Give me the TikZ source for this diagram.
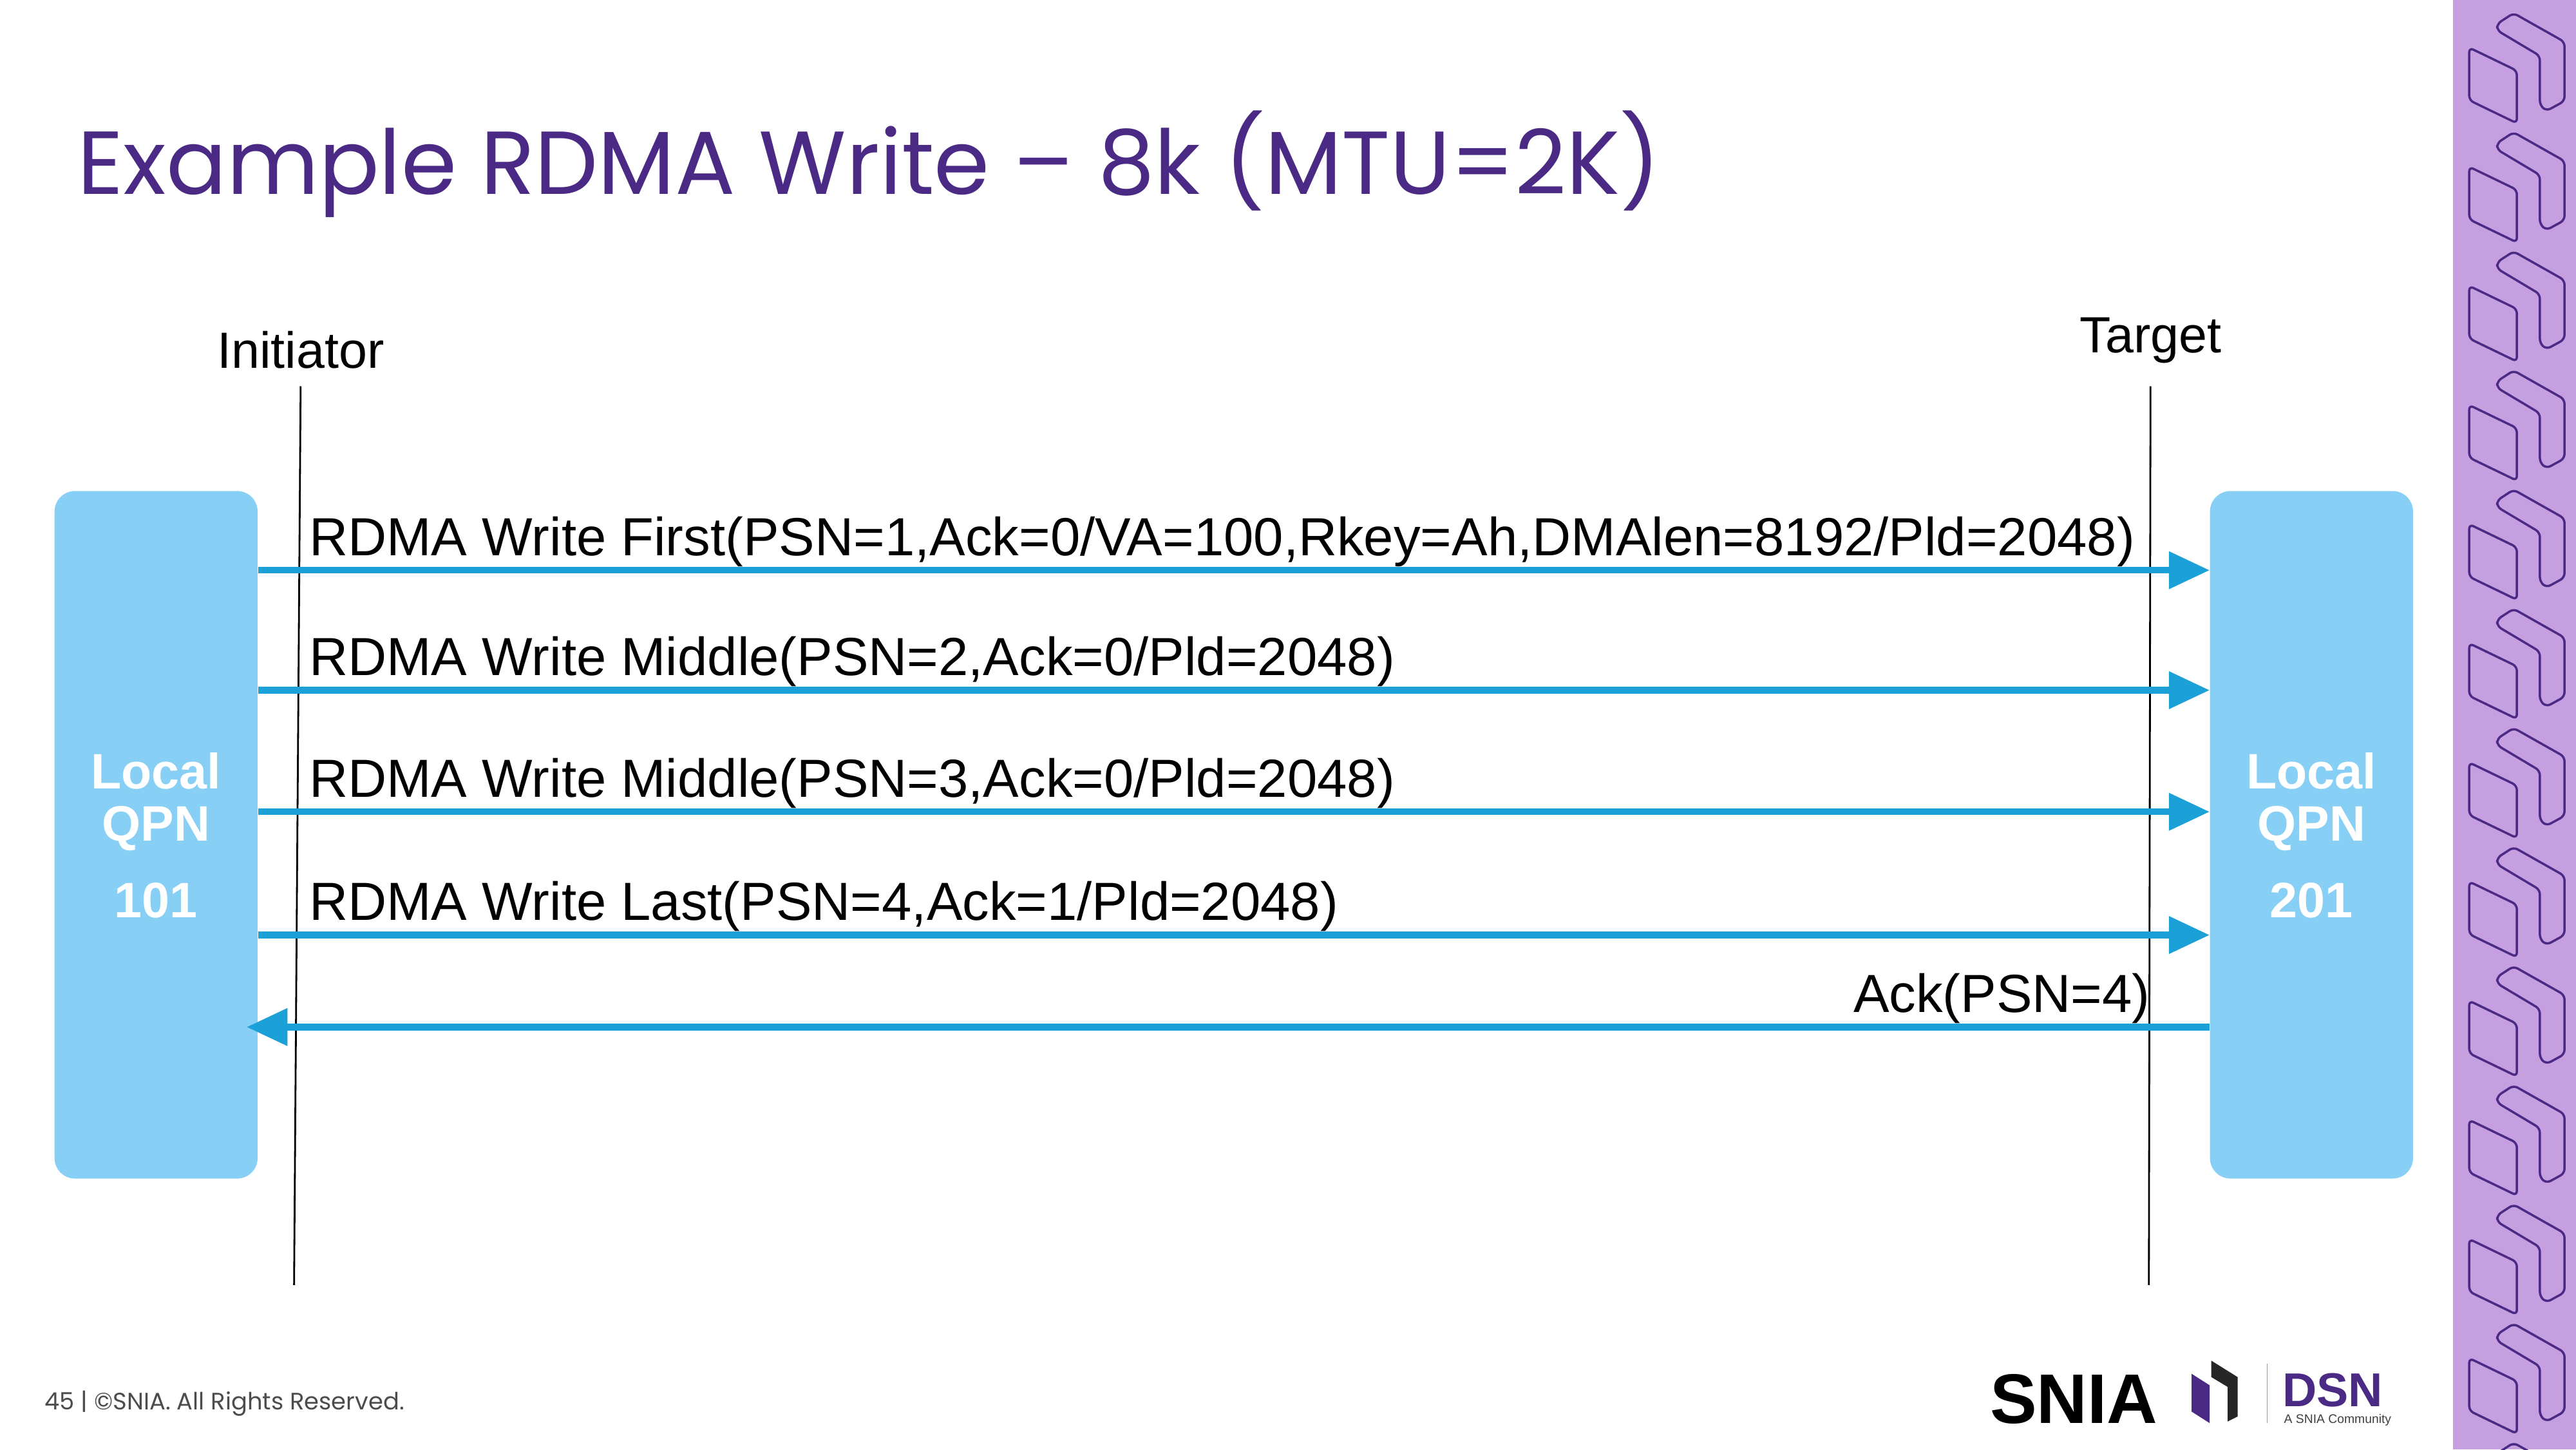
\documentclass[tikz,border=0pt]{standalone}
\usepackage{fontspec}
\setmainfont{Liberation Sans}
\newfontfamily\titlefont{Poppins}
\usetikzlibrary{arrows.meta,positioning}
\definecolor{snpurple}{HTML}{4B2A85}
\definecolor{qpblue}{HTML}{88CFF5}
\definecolor{msgblue}{HTML}{1BA0D8}
\definecolor{strip}{HTML}{C59FE0}
\tikzset{
  qpbox/.style={fill=qpblue,rounded corners=9pt,minimum width=89.7pt,minimum height=303.7pt,inner sep=0pt},
  qptext/.style={text=white,font=\fontsize{22}{27}\selectfont\bfseries,inner sep=0pt},
  msg/.style={draw=msgblue,line width=2.9pt,-{Triangle[length=18pt,width=16pt]}},
  msglabel/.style={font=\fontsize{23.7}{27}\selectfont,anchor=base west,inner sep=0pt},
  lifeline/.style={draw=black,line width=0.8pt},
  deco/.style={draw=snpurple,line width=1pt,rounded corners=2pt}
}
\begin{document}
\begin{tikzpicture}[x=0.02551cm,y=-0.02551cm]
  \useasboundingbox (0,0) rectangle (1568,882);
  \fill[white] (0,0) rectangle (1568,882);

  % side strip
  \fill[strip] (1493,0) rectangle (1568,882);
  \foreach \k in {0,...,12}{
    \begin{scope}[yshift=-\k*72.5*0.02551cm]
      \draw[deco] (1503,29) -- (1532,43) -- (1532,75) -- (1503,61) -- cycle;
      \draw[deco] (1546,34) -- (1520,18.5) -- (1520,14.5) -- (1530,8) -- (1561,25.5)
        -- (1561,61.5) -- (1550,67.5) -- (1546,64) -- cycle;
    \end{scope}
  }

  % title
  \node[anchor=base west,inner sep=0pt,text=snpurple,font=\titlefont\fontsize{39.5}{44}\selectfont] (title) at (47,118) {Example RDMA Write – 8k (MTU=2K)};

  % lifelines
  \node[font=\fontsize{22.5}{26}\selectfont,inner sep=0pt] (initiator) at (183,213) {Initiator};
  \node[font=\fontsize{22.5}{26}\selectfont,inner sep=0pt] (target) at (1309,207) {Target};
  \coordinate (iniend) at (179,782);
  \coordinate (tgtend) at (1308,782);
  \draw[lifeline] (183,235) -- (iniend);
  \draw[lifeline] (1309,235) -- (tgtend);

  % queue pairs
  \node[qpbox] (ini) at (95,508) {};
  \node[qpbox] (tgt) at (1407,508) {};
  \foreach \x/\n in {95/101,1407/201}{
    \node[qptext] at (\x,469) {Local};
    \node[qptext] at (\x,504) {QPN};
    \node[qptext] at (\x,548) {\n};
  }

  % messages
  \foreach \y/\name/\txt in {347/m1/{RDMA Write First(PSN=1,Ack=0/VA=100,Rkey=Ah,DMAlen=8192/Pld=2048)},
                            420/m2/{RDMA Write Middle(PSN=2,Ack=0/Pld=2048)},
                            494/m3/{RDMA Write Middle(PSN=3,Ack=0/Pld=2048)},
                            569/m4/{RDMA Write Last(PSN=4,Ack=1/Pld=2048)}}{
    \coordinate (\name) at (0,\y);
    \draw[msg] (ini.east |- \name) -- (tgt.west |- \name);
    \node[msglabel] at (188,\y-9) {\txt};
  }
  \coordinate (ack) at (0,625);
  \draw[msg] (tgt.west |- ack) -- ([xshift=-5pt]ini.east |- ack);
  \node[msglabel,anchor=base east] (acklabel) at (1309,616) {Ack(PSN=4)};

  % footer
  \node[anchor=base west,inner sep=0pt,text=black!70,font=\titlefont\fontsize{10.5}{12}\selectfont] (footer) at (27,858) {45 | \textcopyright SNIA. All Rights Reserved.};
  \node[anchor=base west,inner sep=0pt,font=\fontsize{31}{32}\selectfont\bfseries] (snia) at (1211,866) {SNIA};
  \fill[snpurple] (1334,836) -- (1345,843) -- (1345,866) -- (1334,859) -- cycle;
  \fill[black!85] (1346,828) -- (1362,838) -- (1362,862) -- (1356,865) -- (1356,844) -- (1346,838) -- cycle;
  \draw[black!40,line width=0.5pt] (1380,830) -- (1380,866);
  \node[anchor=base west,inner sep=0pt,text=snpurple,font=\fontsize{21}{22}\selectfont\bfseries] (dsn) at (1389,856) {DSN};
  \node[anchor=base west,inner sep=0pt,text=black!75,font=\fontsize{5.5}{6}\selectfont] (community) at (1390,866) {A SNIA Community};
\end{tikzpicture}
\end{document}
